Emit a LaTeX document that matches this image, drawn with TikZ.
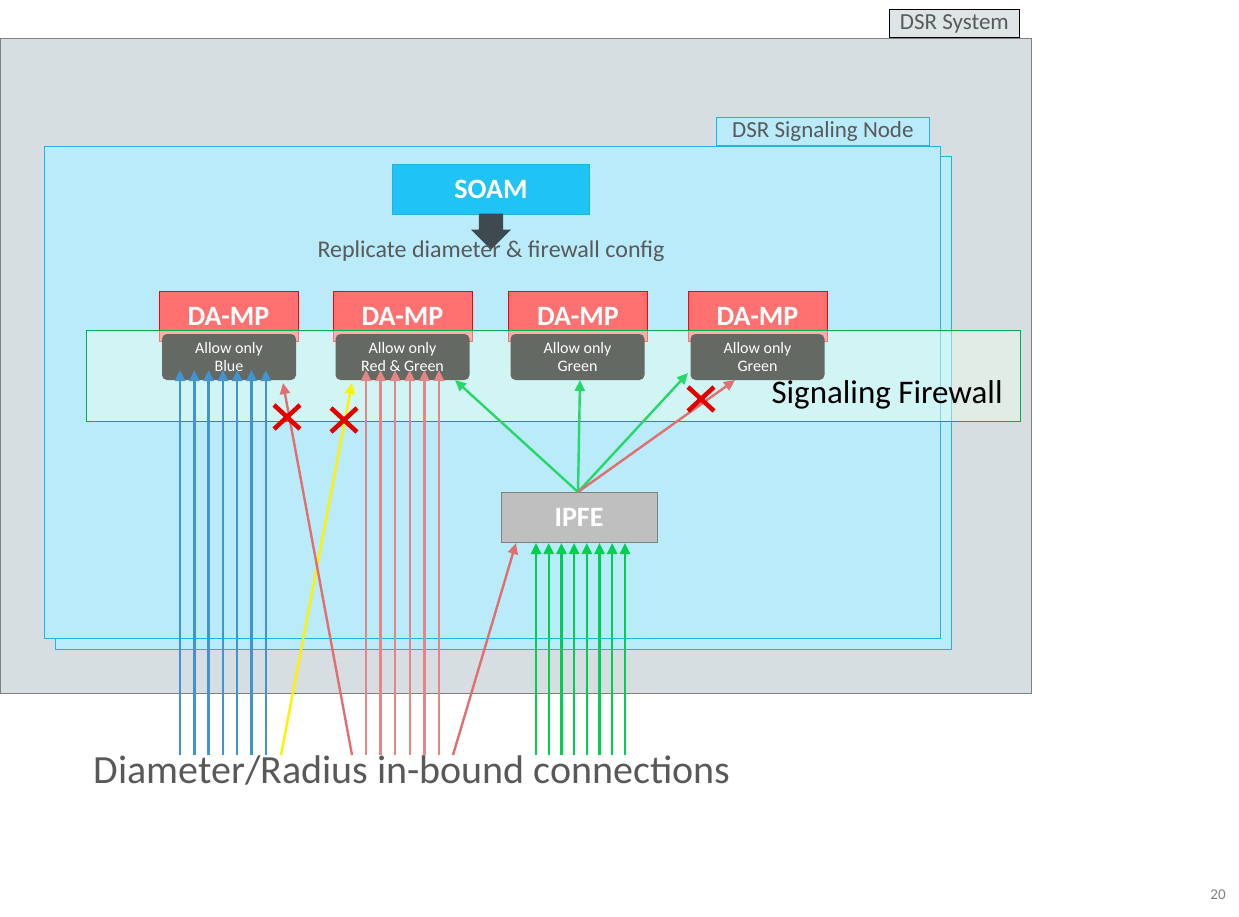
\documentclass[tikz,border=0pt]{standalone}
\usepackage{fontspec}
\setmainfont{Carlito}
\usetikzlibrary{arrows.meta,shapes.arrows,calc}
\definecolor{sysgray}{HTML}{D6DEE1}
\definecolor{nodeblue}{HTML}{B9EBFA}
\definecolor{edgeblue}{HTML}{1FB5E0}
\definecolor{soamblue}{HTML}{1FC4F5}
\definecolor{mpred}{HTML}{FF7070}
\definecolor{rulegray}{HTML}{646963}
\definecolor{fwgreen}{HTML}{00B050}
\definecolor{bluecon}{HTML}{0070C0}
\definecolor{redcon}{HTML}{E07070}
\definecolor{greencon}{HTML}{00D050}
\definecolor{txtgray}{HTML}{595959}
\definecolor{arrowgray}{HTML}{3F4A50}
\tikzset{
  fs/.style={font=\fontsize{#1}{#1}\selectfont},
  fsb/.style={font=\bfseries\fontsize{#1}{#1}\selectfont},
  tab/.style={draw=#1,line width=0.8pt,fs=23,text=txtgray,inner sep=2pt,anchor=south west,minimum height=28pt},
  mp/.style={draw=red,fill=mpred,minimum width=139pt,minimum height=50pt,text=white,fsb=28},
  rule/.style={draw=none,fill=rulegray,rounded corners=5pt,minimum width=134pt,minimum height=46pt,text=white,align=center,inner sep=1pt,font=\fontsize{16}{18}\selectfont},
  con/.style={line width=2.4pt,-{Triangle[length=11pt,width=10pt]}},
  nogo/.style={red!90!black,line width=4.5pt}
}
\newcommand{\nogo}[1]{%
  \draw[nogo] ($(#1)+(-13,-12)$) -- ($(#1)+(13,12)$);
  \draw[nogo] ($(#1)+(-13,12)$) -- ($(#1)+(13,-12)$);}
\begin{document}
\begin{tikzpicture}[x=1pt,y=-1pt]
  \useasboundingbox (0,0) rectangle (1239,917);
  % DSR system
  \draw[gray,fill=sysgray] (0,38) rectangle (1031,693);
  \node[tab=black,fill=sysgray!80!white,minimum width=130pt] (systab) at (889,38) {DSR System};
  %
  % Signaling node
  \draw[edgeblue,fill=nodeblue] (55,156) rectangle (951,649);
  \draw[edgeblue,fill=nodeblue] (44,146) rectangle (940,638);
  \node[tab=edgeblue,fill=nodeblue,minimum width=213pt] (nodetab) at (716,146) {DSR Signaling Node};
  %
  % SOAM
  \node[draw=edgeblue,fill=soamblue,minimum width=197pt,minimum height=50pt,text=white,fsb=28] (soam) at (491,189) {SOAM};
  \node[single arrow,shape border rotate=270,fill=arrowgray,minimum width=40pt,single arrow head extend=4pt,minimum height=36pt,inner sep=6pt,anchor=tip] (repl) at (491,250) {};
  \node[fs=24,text=txtgray] (repltxt) at (491,251) {Replicate diameter \& firewall config};
  %
  % DA-MPs
  \foreach \i/\x in {1/228.5,2/402.5,3/578,4/757.5}
    \node[mp] (mp\i) at (\x,316) {DA-MP};
  %
  % Firewall band
  \draw[fwgreen,fill=green!6!white,fill opacity=0.45] (86,330) rectangle (1020,421);
  \node[fs=33,anchor=west] (fw) at (768,395) {Signaling Firewall};
  %
  % Rules
  \node[rule] (r1) at (229,357) {Allow only\\Blue};
  \node[rule] (r2) at (402.5,357) {Allow only\\Red \& Green};
  \node[rule] (r3) at (577.5,357) {Allow only\\Green};
  \node[rule] (r4) at (757.5,357) {Allow only\\Green};
  %
  % IPFE
  \node[draw=gray,fill=black!25,minimum width=156pt,minimum height=50pt,text=white,fsb=28] (ipfe) at (579,517) {IPFE};
  \coordinate (fan) at (578,492);
  %
  % In-bound connections
  \foreach \x in {180,194.3,...,267}
    \draw[con,bluecon!75!white] (\x,755) -- (\x,370);
  \foreach \x in {366,380.6,...,440}
    \draw[con,redcon!85!white] (\x,755) -- (\x,370);
  \foreach \x in {536,548.7,...,626}
    \draw[con,greencon] (\x,755) -- (\x,543);
  \draw[con,yellow] (281,755) -- (352,383);
  \draw[con,redcon] (352,755) -- (283,383);
  \draw[con,redcon] (453,755) -- (516,543);
  %
  % IPFE to DA-MPs
  \draw[con,greencon!85!white] (fan) -- (455,380);
  \draw[con,greencon!85!white] (fan) -- (580,380);
  \draw[con,greencon!85!white] (fan) -- (688,373);
  \draw[con,redcon] (fan) -- (735,380);
  %
  % Blocked
  \coordinate (x1) at (287,417);
  \coordinate (x2) at (344,420);
  \coordinate (x3) at (701,399);
  \nogo{x1}\nogo{x2}\nogo{x3}
  %
  \node[fs=40,text=txtgray] (inb) at (412,770) {Diameter/Radius in-bound connections};
  \node[fs=15,text=gray] (pg) at (1218,895) {20};
\end{tikzpicture}
\end{document}
